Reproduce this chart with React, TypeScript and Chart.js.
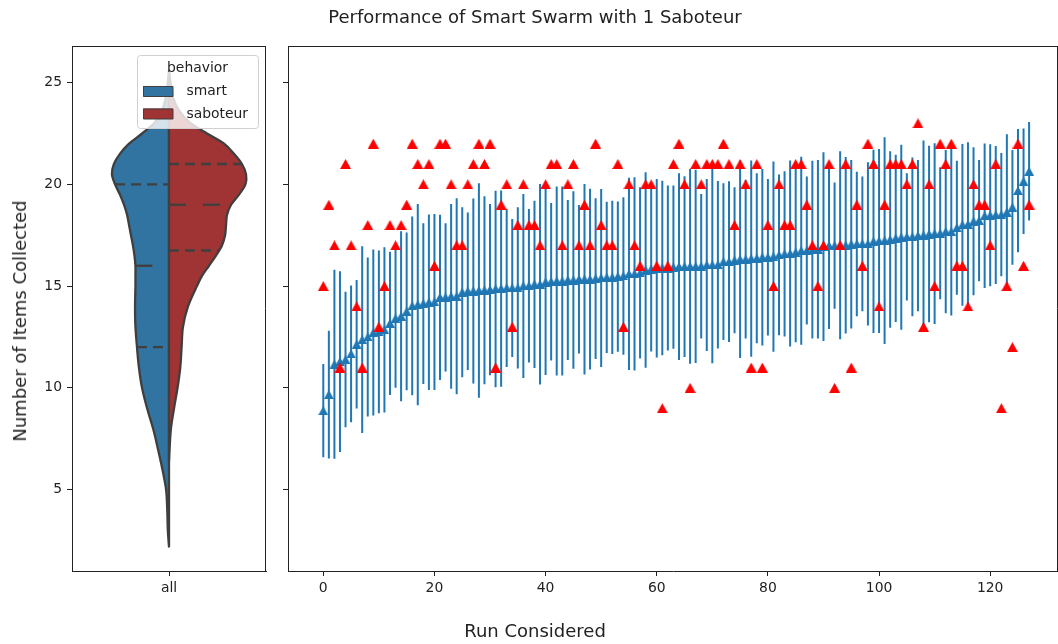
import React, { useEffect, useRef } from "react";
import { Chart, registerables } from "chart.js";

Chart.register(...registerables);

// ---------------- DATA ----------------
// mean items collected by the smart agents, per run (sorted runs 0..127)
const smartMean = [
  8.88, 9.67, 11.16, 11.29, 11.39, 11.67, 12.14, 12.37, 12.5, 12.72,
  12.75, 12.85, 13.17, 13.42, 13.52, 13.76, 14.03, 14.09, 14.14, 14.21,
  14.22, 14.45, 14.45, 14.5, 14.5, 14.7, 14.75, 14.76, 14.78, 14.8,
  14.83, 14.86, 14.88, 14.91, 14.91, 14.91, 15.01, 15.02, 15.09, 15.09,
  15.2, 15.22, 15.25, 15.25, 15.3, 15.3, 15.34, 15.34, 15.34, 15.37,
  15.4, 15.43, 15.43, 15.47, 15.5, 15.6, 15.6, 15.65, 15.79, 15.84,
  15.88, 15.89, 15.89, 15.93, 15.96, 15.96, 15.97, 15.97, 15.98, 16.04,
  16.04, 16.05, 16.2, 16.2, 16.27, 16.32, 16.32, 16.35, 16.37, 16.42,
  16.42, 16.45, 16.53, 16.58, 16.6, 16.66, 16.74, 16.75, 16.79, 16.81,
  16.94, 16.99, 16.99, 17.01, 17.01, 17.06, 17.07, 17.08, 17.08, 17.2,
  17.22, 17.24, 17.29, 17.35, 17.4, 17.42, 17.42, 17.48, 17.5, 17.56,
  17.58, 17.6, 17.68, 17.68, 17.87, 18.01, 18.04, 18.19, 18.22, 18.46,
  18.48, 18.5, 18.51, 18.63, 18.87, 19.69, 20.15, 20.64,
];

// standard deviation of the smart agents, per run
const smartStd = [
  2.29, 3.14, 4.64, 4.44, 3.33, 3.36, 3.16, 4.59, 3.91, 4.08,
  4.0, 4.06, 3.52, 3.41, 4.18, 3.88, 4.39, 4.95, 3.95, 4.31,
  4.32, 4.06, 3.64, 4.54, 4.82, 4.18, 3.87, 4.55, 5.27, 4.62,
  4.21, 4.83, 4.82, 3.88, 3.39, 3.96, 4.52, 3.77, 4.11, 4.93,
  4.57, 3.87, 4.64, 4.64, 3.93, 4.36, 3.65, 4.68, 4.44, 3.95,
  4.37, 3.72, 3.77, 3.69, 3.87, 4.72, 4.75, 4.21, 4.8, 4.05,
  4.39, 4.29, 4.05, 4.01, 4.59, 4.44, 4.78, 4.75, 3.55, 4.23,
  4.83, 4.11, 3.85, 3.95, 3.59, 4.85, 3.9, 4.82, 4.18, 4.34,
  3.85, 4.67, 3.95, 4.06, 4.57, 4.42, 4.62, 3.64, 4.37, 4.39,
  4.64, 4.1, 3.1, 4.62, 4.34, 4.14, 3.55, 3.31, 4.01, 4.5,
  4.52, 5.08, 4.34, 4.11, 4.55, 3.13, 3.9, 3.72, 4.65, 4.34,
  4.44, 3.24, 4.01, 4.13, 3.29, 3.98, 4.03, 3.64, 2.98, 3.55,
  3.49, 3.39, 3.03, 3.83, 2.82, 3.03, 2.59, 2.42,
];

// items collected by the saboteur, per run
const saboteurItems = [
  15, 19, 17, 11, 21, 17, 14, 11, 18, 22,
  13, 15, 18, 17, 18, 19, 22, 21, 20, 21,
  16, 22, 22, 20, 17, 17, 20, 21, 22, 21,
  22, 11, 19, 20, 13, 18, 20, 18, 18, 17,
  20, 21, 21, 17, 20, 21, 17, 19, 17, 22,
  18, 17, 17, 21, 13, 20, 17, 16, 20, 20,
  16, 9, 16, 21, 22, 20, 10, 21, 20, 21,
  21, 21, 22, 21, 18, 21, 20, 11, 21, 11,
  18, 15, 20, 18, 18, 21, 21, 19, 17, 15,
  17, 21, 10, 17, 21, 11, 19, 16, 22, 21,
  14, 19, 21, 21, 21, 20, 21, 23, 13, 20,
  15, 22, 21, 22, 16, 16, 14, 20, 19, 19,
  17, 21, 9, 15, 12, 22, 16, 19,
];

// run index of each value (runs considered)
const runIndex = smartMean.map((_, i) => i);

const xTicks = [0, 20, 40, 60, 80, 100, 120];
const yTicks = [5, 10, 15, 20, 25];

// violin (split) : value grid and half-widths (category units)
const smartGrid = [2.2, 3, 4, 5, 6, 7, 8, 9, 10, 11, 12, 13, 14, 15, 15.5, 16, 16.5, 17, 17.5, 18, 18.5, 19, 19.5, 20, 20.5, 21, 21.5, 22, 22.5, 23, 23.5, 24, 24.5, 25, 25.6];
const smartDensity = [0, 0.006, 0.009, 0.015, 0.034, 0.057, 0.082, 0.113, 0.139, 0.155, 0.165, 0.173, 0.175, 0.173, 0.173, 0.173, 0.178, 0.186, 0.196, 0.206, 0.216, 0.232, 0.253, 0.278, 0.294, 0.284, 0.253, 0.206, 0.139, 0.077, 0.041, 0.023, 0.013, 0.006, 0];
const saboteurGrid = [6.4, 7, 8, 9, 10, 11, 12, 13, 14, 15, 15.5, 16, 16.5, 17, 17.5, 18, 18.5, 19, 19.5, 20, 20.5, 21, 21.5, 22, 22.5, 23, 23.5, 24, 24.5, 25, 25.6];
const saboteurDensity = [0, 0.003, 0.01, 0.026, 0.044, 0.058, 0.065, 0.072, 0.098, 0.144, 0.17, 0.206, 0.242, 0.273, 0.289, 0.294, 0.299, 0.32, 0.361, 0.394, 0.397, 0.376, 0.335, 0.284, 0.196, 0.113, 0.062, 0.031, 0.015, 0.008, 0];
const smartQuartiles = [12, 16, 20];
const saboteurQuartiles = [16.75, 19, 21];

const behaviors = ["smart", "saboteur"];
const behaviorColors = ["#3274a1", "#a03434"];

// ---------------- HELPERS ----------------
const FONT = "'DejaVu Sans', 'Liberation Sans', sans-serif";
const INK = "#222222";
const OUTLINE = "#3f3f3f";

function interp(grid: number[], w: number[], q: number) {
  for (let i = 0; i < grid.length - 1; i++) {
    if (q >= grid[i] && q <= grid[i + 1]) {
      const t = (q - grid[i]) / (grid[i + 1] - grid[i]);
      return w[i] + t * (w[i + 1] - w[i]);
    }
  }
  return 0;
}

function triangleImage(color: string, w: number, h: number) {
  const c = document.createElement("canvas");
  c.width = w;
  c.height = h;
  const g = c.getContext("2d")!;
  g.fillStyle = color;
  g.beginPath();
  g.moveTo(w / 2, 0);
  g.lineTo(w, h);
  g.lineTo(0, h);
  g.closePath();
  g.fill();
  return c;
}

// top and right spines (matplotlib-style closed frame)
const framePlugin = {
  id: "frame",
  afterDraw(chart: any) {
    const { ctx, chartArea: a } = chart;
    ctx.save();
    ctx.strokeStyle = INK;
    ctx.lineWidth = 1;
    ctx.beginPath();
    ctx.moveTo(a.left, a.top + 0.5);
    ctx.lineTo(a.right, a.top + 0.5);
    ctx.moveTo(a.right - 0.5, a.top);
    ctx.lineTo(a.right - 0.5, a.bottom);
    ctx.stroke();
    ctx.restore();
  },
};

const violinPlugin = {
  id: "violin",
  afterDatasetsDraw(chart: any) {
    const { ctx, scales } = chart;
    const x = scales.x;
    const y = scales.y;
    const cx = x.getPixelForValue(0);

    const drawHalf = (grid: number[], dens: number[], side: number, fill: string) => {
      const pts = grid.map((v, i) => ({ px: x.getPixelForValue(side * dens[i]), py: y.getPixelForValue(v) }));
      ctx.beginPath();
      ctx.moveTo(pts[0].px, pts[0].py);
      for (let i = 0; i < pts.length - 1; i++) {
        const p0 = pts[Math.max(i - 1, 0)];
        const p1 = pts[i];
        const p2 = pts[i + 1];
        const p3 = pts[Math.min(i + 2, pts.length - 1)];
        ctx.bezierCurveTo(
          p1.px + (p2.px - p0.px) / 6, p1.py + (p2.py - p0.py) / 6,
          p2.px - (p3.px - p1.px) / 6, p2.py - (p3.py - p1.py) / 6,
          p2.px, p2.py
        );
      }
      ctx.lineTo(cx, pts[pts.length - 1].py);
      ctx.lineTo(cx, pts[0].py);
      ctx.closePath();
      ctx.fillStyle = fill;
      ctx.fill();
      ctx.strokeStyle = OUTLINE;
      ctx.lineWidth = 2.3;
      ctx.lineJoin = "round";
      ctx.lineCap = "round";
      ctx.stroke();
    };

    ctx.save();
    drawHalf(smartGrid, smartDensity, -1, behaviorColors[0]);
    drawHalf(saboteurGrid, saboteurDensity, 1, behaviorColors[1]);

    const qLine = (grid: number[], dens: number[], q: number, side: number, median: boolean) => {
      const hw = interp(grid, dens, q);
      const py = y.getPixelForValue(q);
      ctx.beginPath();
      ctx.setLineDash(median ? [17, 17] : [10, 6]);
      ctx.lineCap = "butt";
      ctx.lineWidth = 2.3;
      ctx.strokeStyle = OUTLINE;
      if (side < 0) {
        ctx.moveTo(x.getPixelForValue(-hw), py);
        ctx.lineTo(cx, py);
      } else {
        ctx.moveTo(cx, py);
        ctx.lineTo(x.getPixelForValue(hw), py);
      }
      ctx.stroke();
    };
    smartQuartiles.forEach((q, i) => qLine(smartGrid, smartDensity, q, -1, i === 1));
    saboteurQuartiles.forEach((q, i) => qLine(saboteurGrid, saboteurDensity, q, 1, i === 1));
    ctx.setLineDash([]);

    // legend
    const lx = 137, ly = 55, lw = 121, lh = 73;
    ctx.beginPath();
    ctx.roundRect(lx + 0.5, ly + 0.5, lw, lh, 3);
    ctx.fillStyle = "rgba(255,255,255,0.8)";
    ctx.fill();
    ctx.strokeStyle = "#d0d0d0";
    ctx.lineWidth = 1;
    ctx.stroke();
    ctx.font = `13.9px ${FONT}`;
    ctx.fillStyle = INK;
    ctx.textBaseline = "middle";
    ctx.textAlign = "center";
    ctx.fillText("behavior", 197.5, 68.5);
    ctx.textAlign = "left";
    behaviors.forEach((b, i) => {
      const yy = 86 + i * 22.5;
      ctx.fillStyle = behaviorColors[i];
      ctx.fillRect(143, yy, 30, 10.5);
      ctx.strokeStyle = OUTLINE;
      ctx.lineWidth = 1;
      ctx.strokeRect(143.5, yy + 0.5, 29.5, 10);
      ctx.fillStyle = INK;
      ctx.fillText(b, 186.5, yy + 5.5);
    });
    ctx.restore();
  },
};

const errorBarPlugin = {
  id: "errorbars",
  beforeDatasetsDraw(chart: any) {
    const { ctx, scales, chartArea: a } = chart;
    const x = scales.x;
    const y = scales.y;
    ctx.save();
    ctx.beginPath();
    ctx.rect(a.left, a.top, a.right - a.left, a.bottom - a.top);
    ctx.clip();
    ctx.strokeStyle = "#1f77b4";
    ctx.lineWidth = 2;
    ctx.beginPath();
    runIndex.forEach((r, i) => {
      const px = x.getPixelForValue(r);
      ctx.moveTo(px, y.getPixelForValue(smartMean[i] - smartStd[i]));
      ctx.lineTo(px, y.getPixelForValue(smartMean[i] + smartStd[i]));
    });
    ctx.stroke();
    ctx.restore();
  },
};

function axisCommon() {
  return {
    grid: { drawOnChartArea: false, drawTicks: true, tickLength: 5, color: INK, lineWidth: 1 },
    border: { display: true, color: INK, width: 1 },
  };
}

export default function App() {
  const leftRef = useRef<HTMLCanvasElement>(null);
  const rightRef = useRef<HTMLCanvasElement>(null);

  useEffect(() => {
    Chart.defaults.font.family = FONT;
    Chart.defaults.font.size = 13.9;
    Chart.defaults.color = INK;

    const left = new Chart(leftRef.current!, {
      type: "scatter",
      data: { datasets: [] },
      options: {
        animation: false,
        responsive: false,
        devicePixelRatio: 1,
        events: [],
        layout: { autoPadding: false, padding: { top: 46, right: 14, left: 0, bottom: 0 } },
        plugins: { legend: { display: false }, tooltip: { enabled: false } },
        scales: {
          x: {
            type: "linear",
            min: -0.5,
            max: 0.5,
            ...axisCommon(),
            ticks: { padding: 4, callback: () => "all" },
            afterBuildTicks: (s: any) => { s.ticks = [{ value: 0 }]; },
            afterFit: (s: any) => { s.height = 73; },
          },
          y: {
            type: "linear",
            min: 1.0,
            max: 26.8,
            ...axisCommon(),
            ticks: { padding: 5 },
            afterBuildTicks: (s: any) => { s.ticks = yTicks.map((v) => ({ value: v })); },
            afterFit: (s: any) => { s.width = 72; },
          },
        },
      } as any,
      plugins: [violinPlugin, framePlugin],
    });

    const blueTri = triangleImage("#1f77b4", 10, 9);
    const redTri = triangleImage("#ff0000", 11, 10);

    const right = new Chart(rightRef.current!, {
      type: "scatter",
      data: {
        datasets: [
          {
            label: "saboteur",
            data: runIndex.map((r, i) => ({ x: r, y: saboteurItems[i] })),
            pointStyle: redTri as any,
            pointRadius: 5,
            backgroundColor: "#ff0000",
            borderColor: "#ff0000",
          },
          {
            label: "smart",
            data: runIndex.map((r, i) => ({ x: r, y: smartMean[i] })),
            pointStyle: blueTri as any,
            pointRadius: 5,
            backgroundColor: "#1f77b4",
            borderColor: "#1f77b4",
          },
        ],
      },
      options: {
        animation: false,
        responsive: false,
        devicePixelRatio: 1,
        events: [],
        clip: false,
        layout: { autoPadding: false, padding: { top: 46, right: 0, left: 0, bottom: 0 } },
        plugins: { legend: { display: false }, tooltip: { enabled: false } },
        scales: {
          x: {
            type: "linear",
            min: -6.35,
            max: 132.2,
            ...axisCommon(),
            ticks: { padding: 4 },
            afterBuildTicks: (s: any) => { s.ticks = xTicks.map((v) => ({ value: v })); },
            afterFit: (s: any) => { s.height = 73; },
          },
          y: {
            type: "linear",
            min: 1.0,
            max: 26.8,
            ...axisCommon(),
            ticks: { display: false },
            afterBuildTicks: (s: any) => { s.ticks = yTicks.map((v) => ({ value: v })); },
            afterFit: (s: any) => { s.width = 8; },
          },
        },
      } as any,
      plugins: [errorBarPlugin, framePlugin],
    });

    return () => {
      left.destroy();
      right.destroy();
    };
  }, []);

  const text: React.CSSProperties = {
    position: "absolute",
    whiteSpace: "nowrap",
    fontFamily: FONT,
    color: INK,
    fontSize: 18,
    lineHeight: 1,
  };

  return (
    <div style={{ position: "fixed", left: 0, top: 0, width: 1058, height: 644, background: "#fff", overflow: "hidden" }}>
      <canvas ref={leftRef} width={280} height={644} style={{ position: "absolute", left: 0, top: 0, width: 280, height: 644 }} />
      <canvas ref={rightRef} width={778} height={644} style={{ position: "absolute", left: 280, top: 0, width: 778, height: 644 }} />
      <div style={{ ...text, left: 535, top: 17, transform: "translate(-50%, -50%)" }}>
        Performance of Smart Swarm with 1 Saboteur
      </div>
      <div style={{ ...text, left: 535, top: 631, transform: "translate(-50%, -50%)" }}>Run Considered</div>
      <div style={{ ...text, left: 20, top: 321, transform: "translate(-50%, -50%) rotate(-90deg)" }}>
        Number of Items Collected
      </div>
    </div>
  );
}
